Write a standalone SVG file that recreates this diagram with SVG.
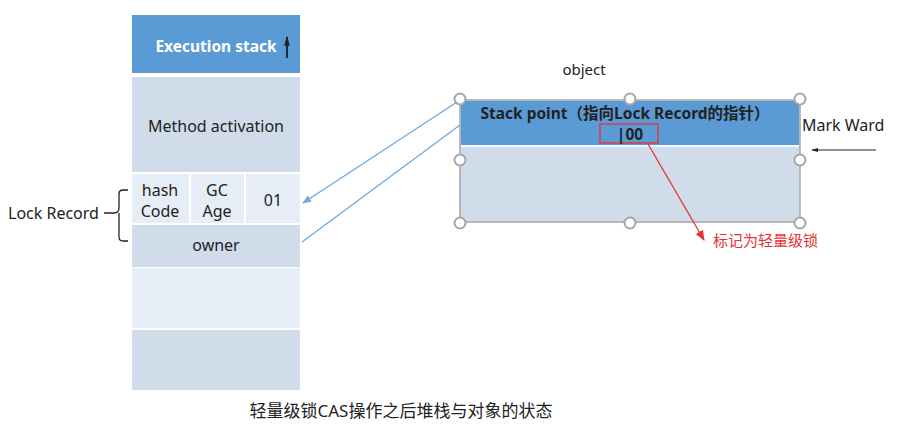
<svg xmlns="http://www.w3.org/2000/svg" width="898" height="439" viewBox="0 0 898 439">
<defs>
<style>
text{font-family:"Noto Sans","Noto Sans CJK SC",sans-serif;fill:#222;}
.dark{fill:#5b9bd5;}
.mid{fill:#d0dcea;}
.light{fill:#e7edf6;}
.handle{fill:#fff;stroke:#a6a6a6;stroke-width:2;}
.blue{stroke:#6fa8dc;stroke-width:1.3;fill:none;}
</style>
<marker id="ab" viewBox="0 0 10 10" refX="9" refY="5" markerWidth="7" markerHeight="7" orient="auto"><path d="M0,1 L10,5 L0,9 z" fill="#6fa8dc"/></marker>
<marker id="ar" viewBox="0 0 10 10" refX="9" refY="5" markerWidth="8" markerHeight="8" orient="auto"><path d="M0,1 L10,5 L0,9 z" fill="#e53333"/></marker>
<marker id="ak" viewBox="0 0 10 10" refX="9" refY="5" markerWidth="6" markerHeight="6" orient="auto"><path d="M0,2 L10,5 L0,8 z" fill="#222"/></marker>
</defs>
<rect width="898" height="439" fill="#fff"/>

<g id="stack">
<rect class="dark" x="132" y="15" width="168" height="58"/>
<text x="216" y="52" font-size="15.5" font-weight="bold" style="fill:#fff" text-anchor="middle">Execution stack</text>
<line x1="287" y1="58" x2="287" y2="37" stroke="#111" stroke-width="1.6" marker-end="url(#ak)"/>
<rect class="mid" x="132" y="77" width="168" height="95"/>
<text x="216" y="132" font-size="16" text-anchor="middle">Method activation</text>
<rect class="light" x="132" y="174" width="57" height="49"/>
<rect class="light" x="191" y="174" width="53" height="49"/>
<rect class="light" x="246" y="174" width="54" height="49"/>
<text x="160" y="196" font-size="16" text-anchor="middle">hash</text>
<text x="160" y="217" font-size="16" text-anchor="middle">Code</text>
<text x="217" y="196" font-size="16" text-anchor="middle">GC</text>
<text x="217" y="217" font-size="16" text-anchor="middle">Age</text>
<text x="273" y="206" font-size="16" text-anchor="middle">01</text>
<rect class="mid" x="132" y="225" width="168" height="42"/>
<text x="216" y="251" font-size="16" text-anchor="middle">owner</text>
<rect class="light" x="132" y="268" width="168" height="60"/>
<rect class="mid" x="132" y="330" width="168" height="60"/>
</g>

<g id="lock-record">
<text x="8" y="219" font-size="16">Lock Record</text>
<path d="M104,213 H114 Q119,213 119,208 V194 Q119,190 123,190 H128 M119,213 V237 Q119,241 123,241 H128" stroke="#222" stroke-width="1.3" fill="none"/>
</g>

<g id="object">
<text x="584" y="75" font-size="15" text-anchor="middle">object</text>
<rect x="460" y="100" width="340" height="122" fill="#d0dcea" stroke="#a6a6a6" stroke-width="1.5"/>
<rect class="dark" x="461" y="101" width="338" height="44"/>
<line x1="461" y1="146" x2="799" y2="146" stroke="#fff" stroke-width="1.5"/>
<text x="625" y="119" font-size="15.5" font-weight="bold" text-anchor="middle">Stack point（指向Lock Record的指针）</text>
<rect x="600" y="124" width="58" height="19" fill="none" stroke="#e53333" stroke-width="1.3"/>
<text x="630" y="140" font-size="15.5" font-weight="bold" text-anchor="middle">|00</text>
<circle class="handle" cx="460" cy="99" r="5.5"/>
<circle class="handle" cx="630" cy="99" r="5.5"/>
<circle class="handle" cx="800" cy="99" r="5.5"/>
<circle class="handle" cx="460" cy="160" r="5.5"/>
<circle class="handle" cx="800" cy="160" r="5.5"/>
<circle class="handle" cx="460" cy="223" r="5.5"/>
<circle class="handle" cx="630" cy="223" r="5.5"/>
<circle class="handle" cx="800" cy="223" r="5.5"/>
</g>

<g id="mark-ward">
<text x="802" y="131" font-size="16">Mark Ward</text>
</g>

<g id="lock-label">
<text x="713" y="246" font-size="15" style="fill:#e53333">标记为轻量级锁</text>
</g>

<g id="caption">
<text x="401" y="417" font-size="17" text-anchor="middle">轻量级锁CAS操作之后堆栈与对象的状态</text>
</g>

<g id="connectors">
<line class="blue" x1="457" y1="102" x2="303" y2="203" marker-end="url(#ab)"/>
<line class="blue" x1="460" y1="125" x2="302" y2="242"/>
<line x1="648" y1="144" x2="704" y2="240" stroke="#e53333" stroke-width="1.3" marker-end="url(#ar)"/>
<line x1="876" y1="150" x2="812" y2="150" stroke="#222" stroke-width="1.2" marker-end="url(#ak)"/>
</g>
</svg>
